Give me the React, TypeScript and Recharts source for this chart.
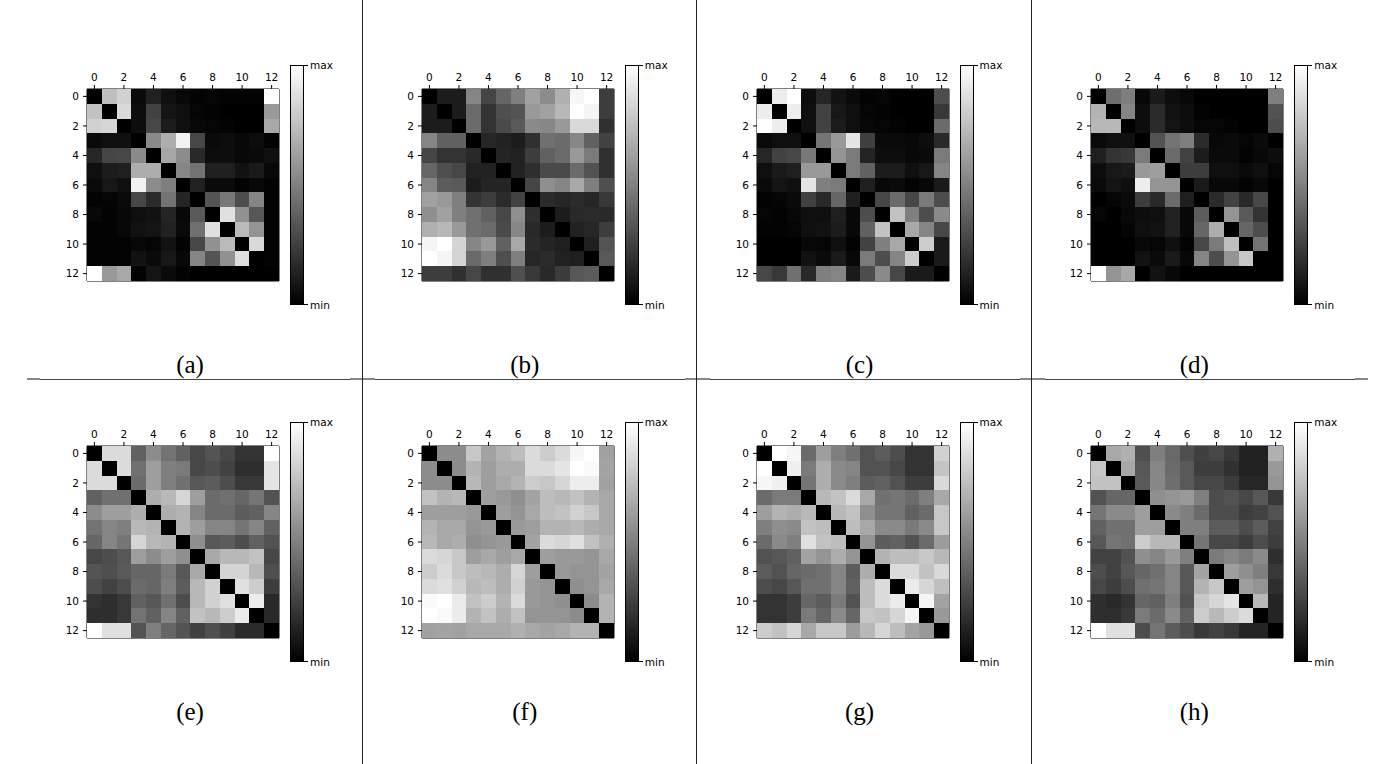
import React from "react"
import { ScatterChart, Scatter, XAxis, YAxis } from "recharts"

// brightness of each cell, 0 = black (min) .. 100 = white (max)
const matrixA = [
  [0, 75, 82, 4, 13, 6, 3, 1, 2, 1, 1, 1, 100],
  [76, 0, 85, 5, 26, 8, 6, 2, 1, 0, 0, 0, 60],
  [82, 84, 0, 5, 28, 11, 6, 3, 2, 1, 0, 0, 66],
  [4, 6, 6, 0, 54, 68, 95, 28, 4, 5, 3, 5, 1],
  [15, 27, 28, 54, 0, 65, 55, 16, 5, 5, 3, 4, 6],
  [6, 11, 12, 68, 68, 0, 53, 45, 12, 12, 7, 10, 3],
  [4, 9, 6, 95, 55, 50, 0, 13, 4, 4, 1, 3, 1],
  [1, 2, 4, 28, 17, 45, 14, 0, 33, 47, 30, 52, 1],
  [3, 1, 3, 6, 7, 14, 3, 35, 0, 88, 57, 34, 1],
  [1, 1, 3, 7, 8, 13, 4, 44, 88, 0, 73, 58, 1],
  [1, 1, 1, 3, 2, 7, 1, 28, 57, 73, 0, 85, 1],
  [1, 1, 1, 7, 4, 9, 3, 52, 33, 57, 87, 0, 1],
  [100, 60, 66, 1, 8, 4, 1, 0, 0, 0, 0, 0, 0],
]

const matrixB = [
  [0, 11, 11, 52, 27, 40, 50, 63, 55, 69, 97, 100, 24],
  [11, 0, 11, 42, 20, 31, 33, 60, 63, 72, 100, 96, 24],
  [11, 11, 0, 42, 20, 29, 35, 54, 53, 60, 85, 85, 19],
  [52, 38, 38, 0, 15, 13, 11, 19, 44, 42, 53, 38, 26],
  [27, 20, 20, 16, 0, 14, 13, 24, 38, 42, 60, 48, 19],
  [40, 31, 28, 13, 13, 0, 13, 18, 29, 29, 42, 32, 19],
  [52, 36, 35, 11, 14, 14, 0, 27, 56, 52, 66, 50, 31],
  [63, 60, 50, 20, 24, 17, 26, 0, 17, 15, 17, 15, 22],
  [56, 63, 50, 44, 38, 28, 56, 18, 0, 11, 16, 17, 16],
  [69, 72, 60, 44, 42, 29, 53, 16, 11, 0, 13, 15, 24],
  [96, 100, 83, 52, 60, 38, 66, 17, 14, 12, 0, 12, 33],
  [100, 96, 83, 41, 50, 31, 50, 15, 17, 13, 12, 0, 35],
  [24, 24, 19, 28, 19, 19, 31, 22, 16, 23, 34, 36, 0],
]

const matrixC = [
  [0, 93, 100, 5, 15, 7, 4, 1, 2, 0, 0, 0, 30],
  [93, 0, 93, 6, 26, 9, 6, 2, 1, 0, 0, 0, 22],
  [100, 93, 0, 6, 26, 11, 6, 3, 2, 1, 0, 0, 42],
  [4, 6, 6, 0, 46, 60, 90, 25, 4, 4, 3, 5, 16],
  [15, 26, 28, 47, 0, 58, 48, 14, 5, 5, 3, 4, 48],
  [6, 10, 12, 60, 60, 0, 48, 38, 11, 11, 6, 9, 52],
  [4, 8, 6, 90, 50, 48, 0, 12, 3, 4, 1, 3, 10],
  [1, 2, 4, 25, 16, 40, 12, 0, 28, 42, 28, 48, 30],
  [2, 1, 3, 6, 6, 12, 3, 30, 0, 76, 50, 30, 54],
  [1, 1, 2, 6, 7, 11, 3, 38, 76, 0, 66, 52, 28],
  [0, 0, 0, 3, 2, 6, 1, 26, 50, 66, 0, 80, 10],
  [0, 0, 0, 7, 4, 10, 3, 48, 30, 52, 80, 0, 10],
  [28, 22, 44, 16, 50, 52, 10, 30, 54, 28, 10, 10, 0],
]

const matrixD = [
  [0, 43, 50, 3, 10, 5, 3, 0, 0, 0, 0, 0, 50],
  [70, 0, 52, 5, 17, 7, 5, 1, 0, 0, 0, 0, 32],
  [72, 72, 0, 5, 17, 8, 5, 2, 2, 1, 0, 0, 30],
  [4, 6, 6, 0, 32, 45, 50, 17, 3, 4, 2, 4, 0],
  [12, 20, 22, 48, 0, 42, 26, 11, 4, 4, 1, 3, 5],
  [5, 9, 10, 60, 62, 0, 24, 24, 6, 6, 4, 6, 2],
  [4, 8, 6, 93, 58, 58, 0, 10, 3, 3, 1, 3, 0],
  [0, 2, 4, 24, 16, 42, 12, 0, 17, 26, 16, 28, 0],
  [2, 0, 3, 5, 6, 13, 3, 36, 0, 58, 35, 20, 0],
  [0, 0, 2, 6, 7, 13, 3, 40, 68, 0, 40, 30, 0],
  [0, 0, 0, 3, 2, 6, 1, 28, 48, 75, 0, 45, 0],
  [0, 0, 0, 7, 4, 10, 3, 52, 30, 58, 78, 0, 0],
  [100, 58, 66, 0, 7, 3, 0, 0, 0, 0, 0, 0, 0],
]

const matrixE = [
  [0, 86, 86, 38, 55, 45, 38, 28, 33, 28, 20, 20, 100],
  [86, 0, 86, 44, 62, 50, 48, 28, 30, 26, 18, 18, 90],
  [86, 86, 0, 42, 62, 50, 44, 34, 36, 30, 22, 22, 90],
  [38, 44, 44, 0, 68, 72, 84, 62, 42, 44, 40, 46, 32],
  [55, 62, 62, 68, 0, 68, 70, 52, 42, 42, 36, 38, 52],
  [45, 52, 50, 72, 70, 0, 70, 62, 52, 52, 46, 52, 38],
  [40, 52, 46, 84, 72, 70, 0, 56, 34, 36, 30, 38, 32],
  [28, 30, 34, 62, 55, 62, 56, 0, 66, 72, 72, 76, 28],
  [33, 31, 35, 40, 40, 48, 34, 66, 0, 83, 83, 72, 31],
  [30, 26, 30, 42, 40, 50, 36, 72, 82, 0, 88, 80, 24],
  [20, 18, 22, 38, 34, 44, 30, 72, 82, 88, 0, 93, 16],
  [18, 18, 22, 45, 38, 52, 38, 76, 72, 80, 92, 0, 16],
  [100, 88, 88, 33, 50, 40, 33, 25, 31, 25, 17, 17, 0],
]

const matrixF = [
  [0, 55, 55, 78, 64, 70, 74, 86, 80, 86, 97, 100, 63],
  [55, 0, 55, 70, 62, 68, 68, 86, 86, 90, 100, 98, 64],
  [55, 55, 0, 72, 62, 66, 70, 80, 78, 84, 93, 93, 63],
  [76, 70, 72, 0, 62, 60, 56, 64, 74, 72, 76, 70, 66],
  [62, 62, 62, 60, 0, 62, 58, 66, 74, 76, 82, 78, 66],
  [70, 66, 66, 58, 60, 0, 60, 62, 70, 70, 72, 68, 66],
  [72, 66, 68, 56, 58, 60, 0, 64, 86, 84, 88, 76, 69],
  [86, 84, 78, 62, 66, 62, 66, 0, 62, 60, 60, 58, 66],
  [80, 86, 78, 74, 72, 68, 84, 62, 0, 60, 58, 58, 64],
  [86, 88, 82, 72, 74, 68, 82, 60, 58, 0, 56, 58, 66],
  [98, 100, 92, 76, 80, 70, 86, 60, 58, 56, 0, 55, 70],
  [100, 98, 92, 70, 76, 68, 76, 58, 58, 58, 55, 0, 70],
  [63, 64, 63, 66, 66, 66, 69, 66, 64, 66, 70, 70, 0],
]

const matrixG = [
  [0, 100, 97, 42, 62, 50, 44, 32, 36, 30, 20, 20, 82],
  [100, 0, 94, 48, 68, 54, 52, 32, 32, 28, 20, 20, 77],
  [97, 94, 0, 46, 68, 54, 50, 36, 38, 32, 24, 24, 85],
  [42, 48, 48, 0, 72, 76, 86, 66, 44, 46, 42, 50, 66],
  [62, 70, 68, 72, 0, 72, 76, 56, 46, 46, 38, 42, 78],
  [50, 56, 54, 76, 74, 0, 74, 66, 54, 54, 48, 54, 78],
  [42, 54, 50, 88, 76, 74, 0, 58, 36, 38, 32, 42, 61],
  [32, 34, 38, 64, 58, 68, 58, 0, 70, 74, 74, 78, 72],
  [36, 32, 40, 42, 44, 52, 36, 68, 0, 86, 86, 76, 85],
  [30, 28, 34, 44, 44, 52, 38, 74, 86, 0, 92, 84, 75],
  [20, 20, 24, 40, 36, 48, 32, 74, 86, 92, 0, 96, 64],
  [20, 20, 24, 48, 40, 54, 40, 78, 76, 84, 96, 0, 60],
  [80, 76, 84, 66, 78, 78, 61, 72, 84, 74, 64, 60, 0],
]

const matrixH = [
  [0, 66, 69, 31, 50, 41, 31, 25, 28, 22, 13, 13, 69],
  [78, 0, 66, 34, 53, 42, 35, 24, 24, 19, 13, 13, 60],
  [76, 76, 0, 35, 53, 43, 35, 28, 28, 23, 15, 15, 58],
  [32, 40, 40, 0, 56, 58, 60, 50, 30, 32, 28, 34, 22],
  [46, 54, 54, 62, 0, 54, 50, 42, 30, 30, 24, 26, 32],
  [38, 44, 44, 62, 62, 0, 50, 50, 36, 36, 30, 36, 26],
  [34, 46, 44, 80, 72, 72, 0, 46, 28, 28, 24, 30, 24],
  [26, 26, 32, 56, 52, 60, 50, 0, 48, 52, 48, 54, 18],
  [30, 26, 34, 40, 44, 52, 34, 64, 0, 62, 56, 50, 22],
  [28, 24, 30, 44, 46, 52, 34, 70, 78, 0, 62, 58, 18],
  [18, 16, 20, 40, 38, 50, 32, 78, 84, 90, 0, 72, 14],
  [18, 18, 22, 48, 42, 54, 38, 80, 72, 80, 86, 0, 14],
  [100, 88, 88, 30, 46, 36, 30, 22, 26, 22, 14, 14, 0],
]

const matrices = [matrixA, matrixB, matrixC, matrixD, matrixE, matrixF, matrixG, matrixH]
const panelLabels = ["(a)", "(b)", "(c)", "(d)", "(e)", "(f)", "(g)", "(h)"]
const tickValues = [0, 2, 4, 6, 8, 10, 12]
const domain: [number, number] = [-0.5, 12.5]

const PLOT = 192
const CELL = PLOT / 13
const AXIS_W = 40
const AXIS_TOP = 28
const colX = [87, 421.75, 756.5, 1091.25]
const rowY = [89, 446]
const labelY = [365, 712]

const tickFont = { fontFamily: "DejaVu Sans", fontSize: 10.5, fill: "#000" }
const smallFont = { fontFamily: "DejaVu Sans", fontSize: 10.5, color: "#000" }

function HeatCell(props: any) {
  const { cx, cy, payload } = props
  const g = Math.round(payload.v * 2.55)
  return (
    <rect
      x={cx - CELL / 2}
      y={cy - CELL / 2}
      width={CELL + 0.5}
      height={CELL + 0.5}
      fill={`rgb(${g},${g},${g})`}
      shapeRendering="crispEdges"
    />
  )
}

function HeatPanel({ matrix, left, top, label, capY }: any) {
  const data: { x: number; y: number; v: number }[] = []
  matrix.forEach((row: number[], r: number) =>
    row.forEach((v, c) => data.push({ x: c, y: r, v }))
  )
  const cbLeft = left + 203
  const cbTop = top - 24
  return (
    <>
      <div style={{ position: "absolute", left: left - AXIS_W, top: top - AXIS_TOP }}>
        <ScatterChart width={AXIS_W + PLOT + 4} height={AXIS_TOP + PLOT + 10} margin={{ top: 0, right: 0, bottom: 0, left: 0 }}>
          <Scatter xAxisId="top" yAxisId="left" data={data} shape={HeatCell} isAnimationActive={false} />
          <XAxis xAxisId="top" orientation="top" type="number" dataKey="x" domain={domain} allowDataOverflow
            ticks={tickValues} interval={0} height={AXIS_TOP} tickSize={4} tickMargin={4} tick={tickFont} stroke="#000" />
          <XAxis xAxisId="bottom" orientation="bottom" type="number" dataKey="x" domain={domain} allowDataOverflow
            ticks={tickValues} interval={0} height={10} tickSize={4} tick={false} stroke="#000" />
          <YAxis yAxisId="left" type="number" dataKey="y" domain={domain} allowDataOverflow reversed
            ticks={tickValues} interval={0} width={AXIS_W} tickSize={4} tickMargin={4} tick={tickFont} stroke="#000" />
          <YAxis yAxisId="right" orientation="right" type="number" dataKey="y" domain={domain} allowDataOverflow reversed
            width={4} tick={false} tickLine={false} stroke="#000" />
        </ScatterChart>
      </div>
      {/* colour bar */}
      <div style={{
        position: "absolute", left: cbLeft, top: cbTop, width: 14, height: 240, boxSizing: "border-box",
        border: "1px solid #000", background: "linear-gradient(to top, #000, #fff)",
      }} />
      <div style={{ position: "absolute", left: cbLeft + 14, top: cbTop, width: 4, height: 1, background: "#000" }} />
      <div style={{ position: "absolute", left: cbLeft + 14, top: cbTop + 239, width: 4, height: 1, background: "#000" }} />
      <div style={{ ...smallFont, position: "absolute", left: cbLeft + 20, top: cbTop - 8, lineHeight: "16px" }}>max</div>
      <div style={{ ...smallFont, position: "absolute", left: cbLeft + 20, top: cbTop + 232, lineHeight: "16px" }}>min</div>
      <div style={{
        position: "absolute", left: left + 103 - 40, width: 80, top: capY - 14, lineHeight: "28px",
        textAlign: "center", fontFamily: "Liberation Serif", fontSize: 25, color: "#000",
      }}>{label}</div>
    </>
  )
}

export default function App() {
  const vLines = [362.7, 697.4, 1032.1]
  const hSegs = [27, 350, 685, 1020, 1355]
  return (
    <div style={{ position: "absolute", left: 0, top: 0, width: 1395, height: 764, background: "#fff", overflow: "hidden" }}>
      {matrices.map((m, i) => (
        <HeatPanel key={i} matrix={m} left={colX[i % 4]} top={rowY[Math.floor(i / 4)]}
          label={panelLabels[i]} capY={labelY[Math.floor(i / 4)]} />
      ))}
      <div style={{ position: "absolute", left: 27, top: 378.5, width: 1341, height: 1, background: "#444" }} />
      {hSegs.map((x, i) => (
        <div key={i} style={{ position: "absolute", left: x, top: 378, width: i === 0 || i === 4 ? 13 : 25, height: 2, background: "#888" }} />
      ))}
      {vLines.map((x, i) => (
        <div key={i} style={{ position: "absolute", left: Math.round(x) - 1, top: 0, width: 1, height: 764, background: "#222" }} />
      ))}
    </div>
  )
}
